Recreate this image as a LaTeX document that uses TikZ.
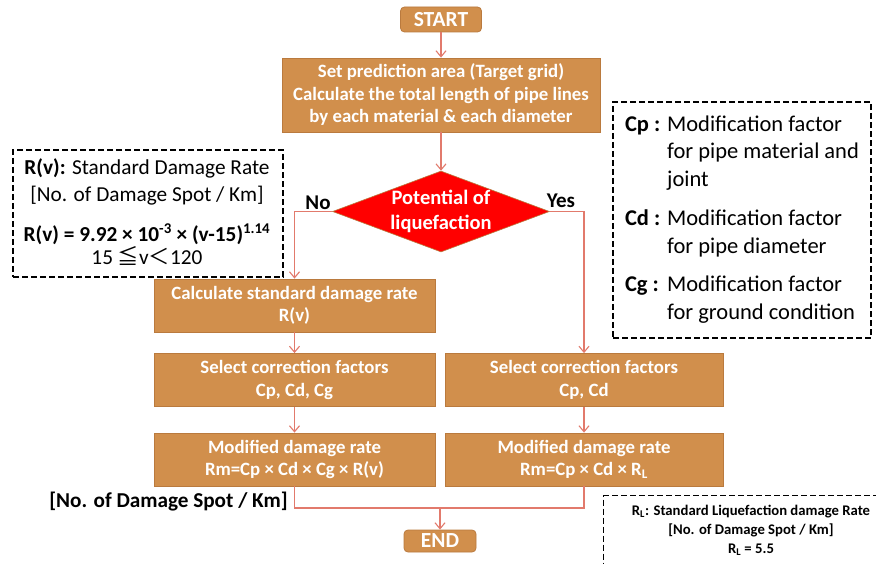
\documentclass[tikz,border=0pt]{standalone}
\usepackage{fontspec}
\setmainfont{Carlito}
\newfontfamily\cjkfont{Noto Sans CJK JP}
\usetikzlibrary{shapes.geometric,arrows.meta}

\definecolor{boxfill}{RGB}{209,143,76}
\definecolor{boxline}{RGB}{186,122,62}
\definecolor{flow}{RGB}{226,122,108}
\definecolor{decision}{RGB}{255,0,0}

\newcommand{\fsz}[2]{\fontsize{#1}{#2}\selectfont}

\begin{document}
\begin{tikzpicture}[x=1pt,y=-1pt,
  stepbox/.style={draw=boxline, fill=boxfill, line width=0.8pt, text=white,
    font=\bfseries\fsz{18.8}{22.5}, align=center, inner sep=0pt},
  terminal/.style={stepbox, rounded corners=4pt, font=\bfseries\fsz{21.5}{24}},
  flowline/.style={draw=flow, line width=1.1pt},
  flowarrow/.style={flowline, -{Straight Barb[length=6pt,width=10pt]}},
  notebox/.style={draw=black, dash pattern=on 6pt off 3pt, line width=1.4pt, inner sep=0pt},
  answer/.style={font=\bfseries\fsz{21}{24}},
]
\path[use as bounding box, clip] (0,0) rectangle (876,564);
\fill[white] (0,0) rectangle (876,564);

% main flow
\node[terminal, minimum width=81pt, minimum height=25pt] (start) at (441,19.5) {START};
\node[stepbox, minimum width=318pt, minimum height=74pt] (area) at (441,95)
  {Set prediction area (Target grid)\\Calculate the total length of pipe lines\\by each material \& each diameter};
\node[diamond, draw=boxline, fill=decision, line width=0.6pt, minimum width=217pt,
  minimum height=81pt, inner sep=0pt] (liq) at (441,211.5) {};
\node[text=white, font=\bfseries\fsz{20.5}{25}, align=center] (liqtext) at (liq.center)
  {Potential of\\liquefaction};

\node[stepbox, minimum width=281pt, minimum height=53pt] (rate) at (294.5,305.5)
  {Calculate standard damage rate\\R(v)};
\node[stepbox, minimum width=281pt, minimum height=53pt] (corrL) at (294.5,380)
  {Select correction factors\\Cp, Cd, Cg};
\node[stepbox, minimum width=278pt, minimum height=53pt] (corrR) at (584,380)
  {Select correction factors\\Cp, Cd};
\node[stepbox, minimum width=281pt, minimum height=53pt] (modL) at (294.5,459.5)
  {Modified damage rate\\Rm=Cp × Cd × Cg × R(v)};
\node[stepbox, minimum width=278pt, minimum height=53pt] (modR) at (584,459.5)
  {Modified damage rate\\Rm=Cp × Cd × R\textsubscript{L}};
\node[terminal, minimum width=72pt, minimum height=22pt] (finish) at (440,541) {END};

% connectors
\draw[flowarrow] (start) -- (area);
\draw[flowarrow] (area) -- (liq);
\draw[flowarrow] (liq.west) -| (rate.north);
\draw[flowarrow] (liq.east) -| (corrR.north);
\draw[flowarrow] (rate) -- (corrL);
\draw[flowarrow] (corrL) -- (modL);
\draw[flowarrow] (corrR) -- (modR);
\coordinate (merge) at (440,508);
\draw[flowline] (modL.south) |- (merge) -| (modR.south);
\draw[flowarrow] (merge) -- (finish);

\node[answer] (no) at (318,203) {No};
\node[answer] (yes) at (561,201) {Yes};

% standard damage rate note
\node[notebox, minimum width=270pt, minimum height=127pt] (rvbox) at (148,213.5) {};
\node[font=\fsz{21.3}{27}, align=center] (rvtext) at (147,212)
  {\textbf{R(v):} Standard Damage Rate\\{[}No. of Damage Spot / Km{]}\\[13pt]
   \textbf{R(v) = 9.92 × 10\textsuperscript{-3} × (v-15)\textsuperscript{1.14}}\\[-4pt]
   15 {\cjkfont ≦}v{\cjkfont ＜}120};

% correction factor note
\node[notebox, minimum width=258pt, minimum height=236pt, font=\fsz{22.5}{27.5}] (cfbox) at (742,220)
  {\begin{tabular}{@{}l@{ }l@{}}
   \textbf{Cp :} & Modification factor\\
                 & for pipe material and\\
                 & joint\\[12pt]
   \textbf{Cd :} & Modification factor\\
                 & for pipe diameter\\[11pt]
   \textbf{Cg :} & Modification factor\\
                 & for ground condition
   \end{tabular}};

\node[font=\bfseries\fsz{21.2}{24}] (unitL) at (168.5,502) {[No. of Damage Spot / Km]};

% liquefaction damage rate note
\node[notebox, minimum width=290pt, minimum height=100pt, anchor=north west] (rlbox) at (603,495) {};
\node[font=\bfseries\fsz{14.7}{19}, align=center] (rltext) at (751,530)
  {R\textsubscript{L}: Standard Liquefaction damage Rate\\{[}No. of Damage Spot / Km{]}\\R\textsubscript{L} = 5.5};
\end{tikzpicture}
\end{document}
